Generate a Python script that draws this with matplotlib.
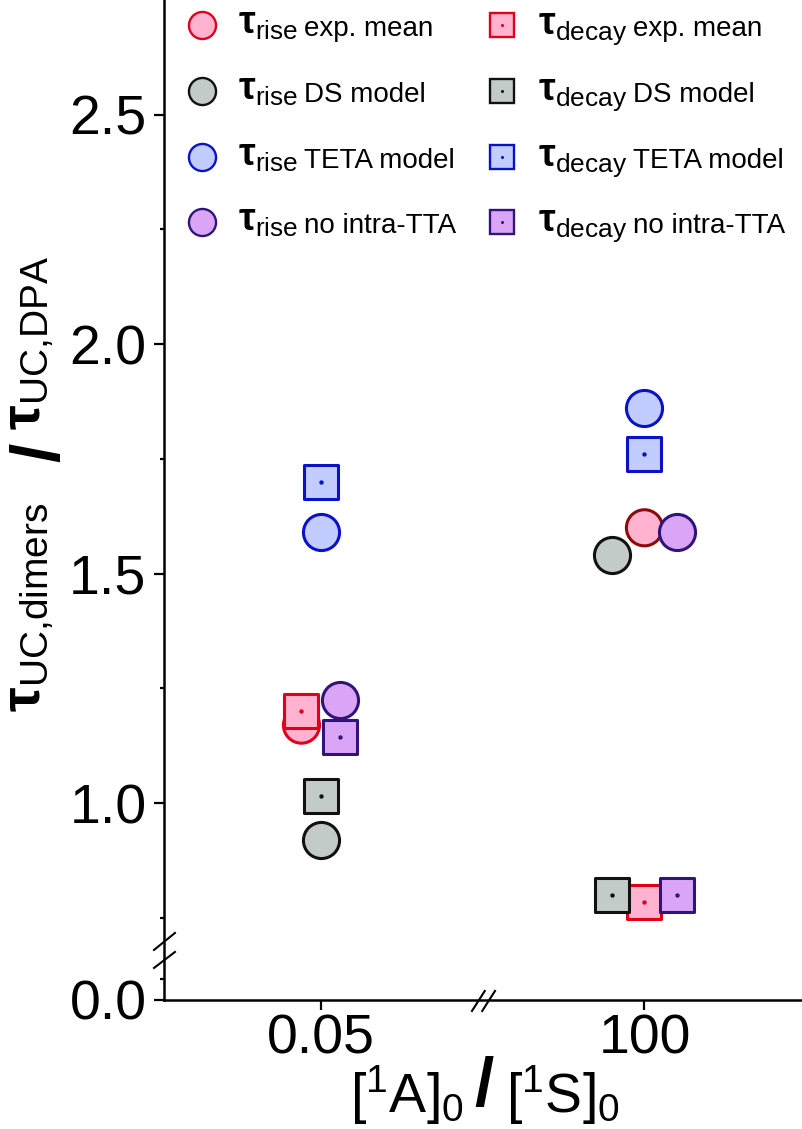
import numpy as np
import matplotlib.pyplot as plt
from matplotlib.ticker import FixedLocator, FormatStrFormatter

plt.rcParams['font.family'] = ['Liberation Sans', 'DejaVu Sans']
plt.rcParams['mathtext.fontset'] = 'custom'
plt.rcParams['mathtext.rm'] = 'Liberation Sans'
plt.rcParams['mathtext.it'] = 'Liberation Sans:italic'
plt.rcParams['mathtext.bf'] = 'Liberation Sans:bold'

# ratio [1A]0/[1S]0
categories = ['0.05', '100']

# tau_UC,dimers / tau_UC,DPA
rise_exp = [1.17, 1.60]
rise_ds = [0.92, 1.54]
rise_teta = [1.59, 1.86]
rise_notta = [1.225, 1.59]

decay_exp = [1.20, 0.785]
decay_ds = [1.015, 0.80]
decay_teta = [1.70, 1.76]
decay_notta = [1.145, 0.80]

labels = ['exp. mean', 'DS model', 'TETA model', 'no intra-TTA']

# styling
faces = ['#ffb3d1', '#c3cbc8', '#c2ccff', '#dba5f7']
edges = ['#e0001a', '#111111', '#0a12c8', '#2f157a']
rise_exp_edges = ['#e0001a', '#8b0a0a']
offsets = [[-0.06, 0.0], [0.0, -0.1], [0.0, 0.0], [0.06, 0.1]]

# broken y axis: squeeze everything below 0.7
BREAK = 0.7
SQUEEZE = 0.184


def fwd(v):
    v = np.asarray(v, dtype=float)
    return np.where(v >= BREAK, v, BREAK - (BREAK - v) * SQUEEZE)


def inv(u):
    u = np.asarray(u, dtype=float)
    return np.where(u >= BREAK, u, BREAK - (BREAK - u) / SQUEEZE)


fig = plt.figure(figsize=(8.03, 11.29), dpi=100)
ax = fig.add_axes([0.2042, 0.1143, 0.7958, 0.8857])
ax.set_yscale('function', functions=(fwd, inv))

x = np.arange(len(categories))
rise = [rise_exp, rise_ds, rise_teta, rise_notta]
decay = [decay_exp, decay_ds, decay_teta, decay_notta]

for i, vals in enumerate(rise):
    ec = rise_exp_edges if i == 0 else edges[i]
    ax.scatter(x + np.array(offsets[i]), vals, s=26 ** 2, marker='o',
               facecolor=faces[i], edgecolors=ec, linewidths=2.2, zorder=3 + i)

for i, vals in enumerate(decay):
    xx = x + np.array(offsets[i])
    ax.scatter(xx, vals, s=24 ** 2, marker='s', facecolor=faces[i],
               edgecolors=edges[i], linewidths=2.2, zorder=10 + 2 * i)
    ax.scatter(xx, vals, s=10, marker='o', color=edges[i], linewidths=0,
               zorder=11 + 2 * i)

ax.set_xlim(-0.485, 1.49)
ax.set_ylim(0, 2.75)
ax.set_xticks(x)
ax.set_xticklabels(categories)
ax.yaxis.set_major_locator(FixedLocator([0.0, 1.0, 1.5, 2.0, 2.5]))
ax.yaxis.set_minor_locator(FixedLocator([0.25, 0.75, 1.25, 1.75, 2.25]))
ax.yaxis.set_major_formatter(FormatStrFormatter('%.1f'))

for side in ['top', 'right']:
    ax.spines[side].set_visible(False)
for side in ['left', 'bottom']:
    ax.spines[side].set_linewidth(1.8)

ax.tick_params(axis='both', which='major', labelsize=40, length=7.5, width=1.6)
ax.tick_params(axis='y', which='major', pad=5)
ax.tick_params(axis='x', which='major', pad=2)
ax.tick_params(axis='y', which='minor', length=3.2, width=1.6)
ax.tick_params(axis='x', which='minor', bottom=False)

# axis break marks
brk = dict(color='black', lw=1.5, clip_on=False, transform=ax.transAxes, zorder=20)
ax.plot([-0.0156, 0.0172], [0.050, 0.067], **brk)
ax.plot([-0.0156, 0.0172], [0.032, 0.048], **brk)
ax.plot([0.482, 0.502], [-0.011, 0.009], **brk)
ax.plot([0.498, 0.518], [-0.011, 0.009], **brk)

# axis titles, built from pieces so the slash can be big (figure pixels)
lab = dict(xycoords='figure pixels', annotation_clip=False)
ax.annotate(r'$\mathbf{\tau}_{\mathrm{UC{,}dimers}}$', xy=(40, 417), rotation=90,
            rotation_mode='anchor', ha='left', va='baseline', fontsize=40, **lab)
ax.annotate('/', xy=(41, 677), rotation=90, rotation_mode='anchor', ha='center',
            va='center', fontsize=50, fontweight='bold', **lab)
ax.annotate(r'$\mathbf{\tau}_{\mathrm{UC{,}DPA}}$', xy=(40, 699), rotation=90,
            rotation_mode='anchor', ha='left', va='baseline', fontsize=40, **lab)

ax.annotate(r'$[^{1}\mathrm{A}]_{0}$', xy=(464, 16), ha='right', va='baseline',
            fontsize=40, **lab)
ax.annotate('/', xy=(484, 41), ha='center', va='center', fontsize=50,
            fontweight='bold', **lab)
ax.annotate(r'$[^{1}\mathrm{S}]_{0}$', xy=(506, 16), ha='left', va='baseline',
            fontsize=40, **lab)

# legend, drawn by hand so the tau can be bigger than the text
col_x = [0.0595, 0.529]
row_y = [0.975, 0.909, 0.843, 0.778]
subs = ['rise', 'decay']
for c in range(2):
    for r in range(4):
        mx, my = col_x[c], row_y[r]
        if c == 0:
            ax.plot([mx], [my], marker='o', ms=19.5, mfc=faces[r], mec=edges[r],
                    mew=1.7, transform=ax.transAxes, clip_on=False)
        else:
            ax.plot([mx], [my], marker='s', ms=17.5, mfc=faces[r], mec=edges[r],
                    mew=1.7, transform=ax.transAxes, clip_on=False)
            ax.plot([mx], [my], marker='o', ms=2.2, mfc=edges[r], mec='none',
                    transform=ax.transAxes, clip_on=False)
        t = ax.annotate(r'$\mathbf{\tau}_{\mathrm{%s}}$' % subs[c], xy=(mx, my),
                        xycoords='axes fraction', xytext=(26, -6.5),
                        textcoords='offset points', fontsize=27,
                        ha='left', va='baseline')
        ax.annotate(labels[r], xy=(1, my), xycoords=(t, 'axes fraction'),
                    xytext=(4, -8), textcoords='offset points', fontsize=20,
                    ha='left', va='baseline')

fig.savefig('out.png', dpi=100)
